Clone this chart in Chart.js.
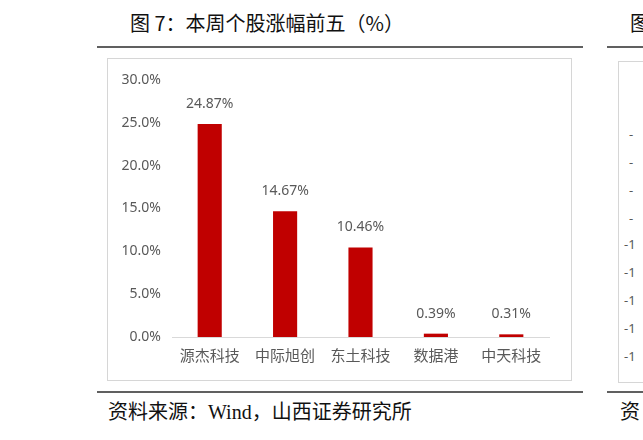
<!DOCTYPE html>
<html>
<head>
<meta charset="utf-8">
<script src="https://cdn.jsdelivr.net/npm/chart.js@4"></script>
<style>
  html, body { margin: 0; padding: 0; background: #fff; }
  body { width: 643px; height: 440px; position: relative; overflow: hidden; }
  .title { position: absolute; top: 9px; font: 20px "Noto Sans CJK SC", sans-serif; color: #111; white-space: nowrap; line-height: 28px; }
  .rule { position: absolute; height: 2px; background: #606060; }
  .box { position: absolute; border: 1px solid #d6d6d6; box-sizing: border-box; }
  .source { position: absolute; top: 397px; font: 20px "Noto Sans CJK SC", sans-serif; color: #111; white-space: nowrap; line-height: 28px; }
  .source .lat { font-family: "Liberation Serif", serif; }
  .frag { position: absolute; font: 13px "Noto Sans", sans-serif; color: #595959; }
  #chartWrap { position: absolute; left: 108px; top: 59px; width: 462px; height: 320px; }
</style>
</head>
<body>
<div class="title" style="left:130px;">图 7：本周个股涨幅前五（%）</div>
<div class="rule" style="left:97px; width:486px; top:46px;"></div>
<div class="box" style="left:107px; top:58px; width:465px; height:323px;"></div>
<div id="chartWrap"><canvas id="topFive"></canvas></div>
<div class="rule" style="left:97px; width:486px; top:391px;"></div>
<div class="source" style="left:108px;">资料来源：<span class="lat">Wind</span>，山西证券研究所</div>

<!-- neighbouring figure, cut off at the page edge -->
<div class="title" style="left:630px;">图</div>
<div class="rule" style="left:607px; width:40px; top:46px;"></div>
<div class="box" style="left:618px; top:61px; width:40px; height:322px;"></div>
<div class="rule" style="left:607px; width:40px; top:391px;"></div>
<div class="source" style="left:620px;">资</div>
<div class="frag" style="left:629px; top:125px;">-</div>
<div class="frag" style="left:629px; top:153px;">-</div>
<div class="frag" style="left:629px; top:181px;">-</div>
<div class="frag" style="left:629px; top:209px;">-</div>
<div class="frag" style="left:624px; top:235px;">-1</div>
<div class="frag" style="left:624px; top:263px;">-1</div>
<div class="frag" style="left:624px; top:291px;">-1</div>
<div class="frag" style="left:624px; top:319px;">-1</div>
<div class="frag" style="left:624px; top:347px;">-1</div>

<script>
const stocks = ["源杰科技", "中际旭创", "东土科技", "数据港", "中天科技"];
const weeklyGain = [24.87, 14.67, 10.46, 0.39, 0.31];
const yTickValues = [0, 5, 10, 15, 20, 25, 30];

const barLabels = {
    id: "barLabels",
    afterDatasetsDraw(chart) {
        const ctx = chart.ctx;
        const meta = chart.getDatasetMeta(0);
        ctx.save();
        ctx.font = '14px "Noto Sans", sans-serif';
        ctx.fillStyle = "#595959";
        ctx.textAlign = "center";
        ctx.textBaseline = "middle";
        meta.data.forEach((bar, i) => {
            ctx.fillText(weeklyGain[i].toFixed(2) + "%", bar.x, bar.y - 20);
        });
        ctx.restore();
    }
};

new Chart(document.getElementById("topFive"), {
    type: "bar",
    data: {
        labels: stocks,
        datasets: [{
            data: weeklyGain,
            backgroundColor: "#c00000",
            barPercentage: 0.32,
            categoryPercentage: 1,
        }],
    },
    options: {
        responsive: true,
        maintainAspectRatio: false,
        animation: false,
        layout: { padding: { top: 21, right: 21, left: 0, bottom: 0 } },
        plugins: { legend: { display: false }, tooltip: { enabled: false } },
        scales: {
            x: {
                grid: { display: false, drawTicks: false },
                border: { color: "#d9d9d9", width: 1 },
                ticks: {
                    padding: 9,
                    color: "#595959",
                    font: { family: "Noto Sans CJK SC", size: 15 },
                },
                afterFit: (scale) => { scale.height = 42; },
            },
            y: {
                min: 0,
                max: 30,
                grid: { display: false, drawTicks: false },
                border: { display: false },
                afterBuildTicks: (scale) => {
                    scale.ticks = yTickValues.map(v => ({ value: v }));
                },
                ticks: {
                    padding: 11,
                    color: "#595959",
                    font: { family: "Noto Sans", size: 14 },
                    callback: (v) => v.toFixed(1) + "%",
                },
                afterFit: (scale) => { scale.width = 64; },
            },
        },
    },
    plugins: [barLabels],
});
</script>
</body>
</html>
